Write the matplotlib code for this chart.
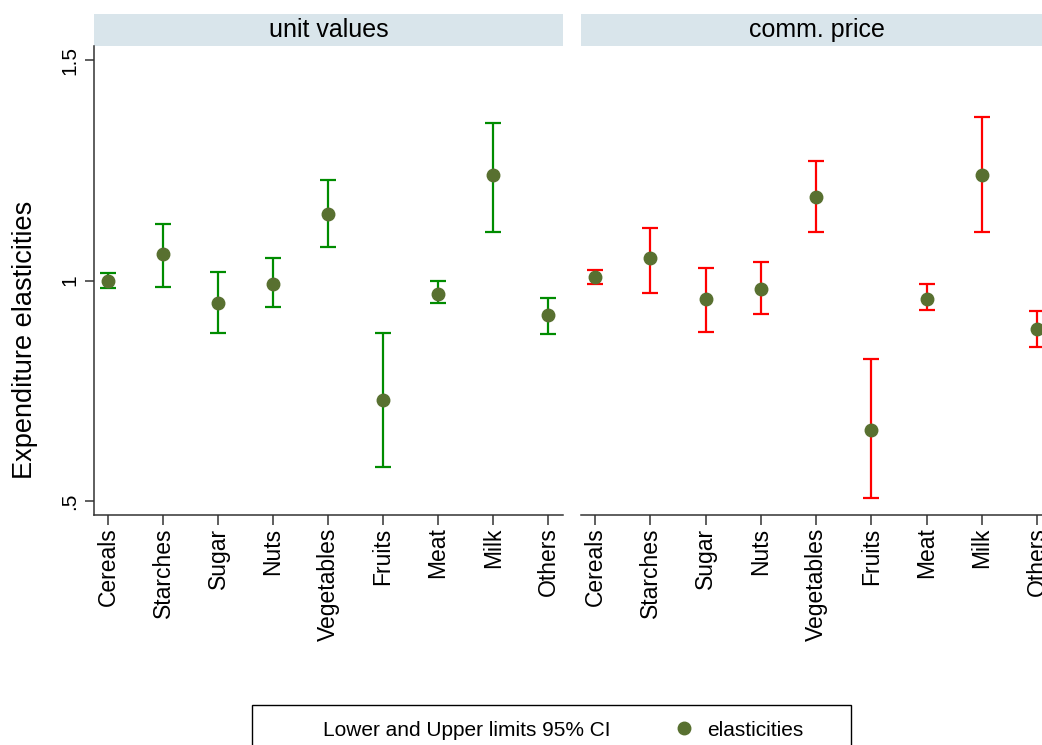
import matplotlib
matplotlib.use("Agg")
import matplotlib.pyplot as plt
from matplotlib.patches import Rectangle
from matplotlib.lines import Line2D
import numpy as np

plt.rcParams['font.family'] = ['Liberation Sans', 'DejaVu Sans']

categories = ["Cereals", "Starches", "Sugar", "Nuts", "Vegetables", "Fruits", "Meat", "Milk", "Others"]
panels = ["unit values", "comm. price"]

# unit values
uv_est = [1.000, 1.059, 0.950, 0.991, 1.152, 0.730, 0.970, 1.240, 0.921]
uv_lo = [0.984, 0.986, 0.880, 0.941, 1.075, 0.578, 0.948, 1.109, 0.878]
uv_hi = [1.018, 1.129, 1.020, 1.050, 1.229, 0.880, 1.000, 1.358, 0.961]

# commodity price
cp_est = [1.009, 1.052, 0.959, 0.980, 1.190, 0.660, 0.959, 1.240, 0.891]
cp_lo = [0.991, 0.971, 0.884, 0.925, 1.111, 0.507, 0.932, 1.109, 0.850]
cp_hi = [1.023, 1.118, 1.029, 1.041, 1.270, 0.823, 0.991, 1.370, 0.930]

yticks = [0.5, 1.0, 1.5]
ytick_labels = [".5", "1", "1.5"]

W, H = 1042, 745
fig = plt.figure(figsize=(W / 100, H / 100), dpi=100)

ax_top = 46
ax_bot = 515
panel_ws = [469, 471]
lefts = [94, 581]

ci_colors = ["#008c00", "#ff0000"]
pt_color = "#587030"
strip_color = "#d9e5eb"

data = [(uv_est, uv_lo, uv_hi), (cp_est, cp_lo, cp_hi)]
x = np.arange(1, len(categories) + 1)

axes = []
for i, (left, pw, (est, lo, hi)) in enumerate(zip(lefts, panel_ws, data)):
    ax = fig.add_axes([left / W, 1 - ax_bot / H, pw / W, (ax_bot - ax_top) / H])
    axes.append(ax)
    est = np.array(est); lo = np.array(lo); hi = np.array(hi)
    mid = (lo + hi) / 2
    ax.errorbar(x, mid, yerr=[mid - lo, hi - mid],
                fmt='none', ecolor=ci_colors[i], elinewidth=1.6, capsize=6, capthick=1.6, zorder=2)
    ax.plot(x, est, 'o', color=pt_color, markersize=9, zorder=3)
    ax.set_xlim(0.745, 9.27)
    ax.set_ylim(0.468, 1.532)
    ax.set_xticks(x)
    ax.set_xticklabels(categories, rotation=90, fontsize=16.5)
    for s in ["top", "right"]:
        ax.spines[s].set_visible(False)
    ax.spines["bottom"].set_color("#333333")
    ax.spines["bottom"].set_linewidth(1.1)
    ax.tick_params(axis='x', length=7, width=1.1, color="#333333", pad=2)
    if i == 0:
        ax.spines["left"].set_color("#333333")
        ax.spines["left"].set_linewidth(1.1)
        ax.set_yticks(yticks)
        ax.set_yticklabels(ytick_labels, fontsize=15)
        ax.tick_params(axis='y', length=6.5, width=1.1, color="#333333", pad=4)
        for lab in ax.get_yticklabels():
            lab.set_rotation(90)
            lab.set_va('center')
            lab.set_ha('right')
        ax.set_ylabel("Expenditure elasticities", fontsize=19.5)
        ax.yaxis.set_label_coords(-0.119, 0.374)
    else:
        ax.spines["left"].set_visible(False)
        ax.set_yticks([])
    # strip
    sh = 32 / (ax_bot - ax_top)
    ax.add_patch(Rectangle((0, 1), 1, sh, transform=ax.transAxes, clip_on=False,
                           facecolor=strip_color, edgecolor='none', zorder=0))
    ax.text(0.5, 1 + sh / 2, panels[i], transform=ax.transAxes, ha='center', va='center',
            fontsize=18, color='black')

# legend
fs = 15
handles = [Line2D([], [], linestyle='none', marker=None),
           Line2D([], [], linestyle='none', marker='o', color=pt_color, markersize=9)]
labels = ["Lower and Upper limits 95% CI", "elasticities"]
leg = fig.legend(handles, labels, ncol=2, frameon=False, fontsize=fs,
                 loc='center left', bbox_to_anchor=(270 / W, 1 - 730 / H),
                 handlelength=1.0, handletextpad=0.65, columnspacing=3.0)
fig.patches.append(Rectangle((252 / W, -0.05), 599 / W, 0.05 + (745 - 705) / H,
                             transform=fig.transFigure, facecolor='white',
                             edgecolor='black', linewidth=1.0, zorder=0))

fig.savefig("out.png", dpi=100)
